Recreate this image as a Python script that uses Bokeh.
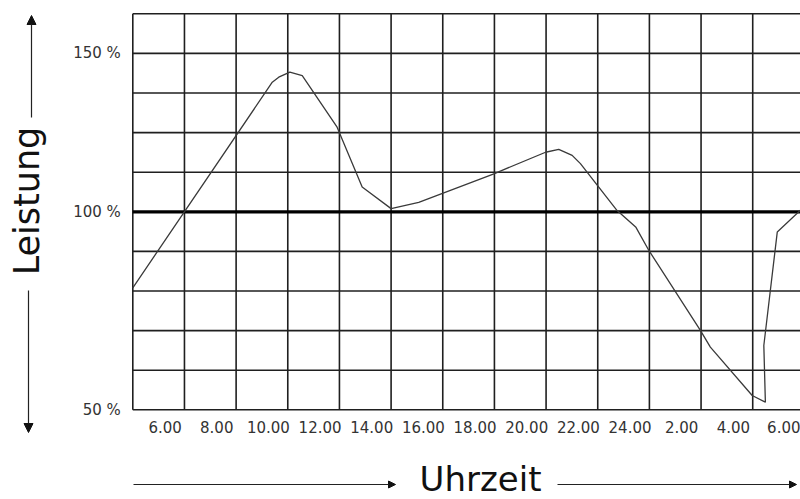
import math
from bokeh.plotting import figure
from bokeh.models import Range1d, FixedTicker, LinearAxis, Arrow, NormalHead
from bokeh.embed import file_html
from bokeh.resources import INLINE
from bokeh.core.properties import value

# ---------------- data ----------------
# Tageskurve der Leistungsbereitschaft (Uhrzeit in Stunden, 24+ = nach Mitternacht)
hours = [4.75, 10.15, 10.40, 10.83, 11.31, 12.66, 13.63, 14.75, 15.82, 18.73,
         20.73, 21.24, 21.76, 22.08, 23.50, 24.23, 24.73, 26.73, 27.11, 28.73,
         29.24, 29.18, 29.70, 30.60]
leistung = [76.0, 140.9, 142.5, 144.1, 143.0, 126.7, 107.8, 101.0, 103.0, 112.0,
            118.8, 119.7, 117.8, 115.2, 100.4, 95.1, 87.8, 62.5, 57.3, 42.0,
            39.9, 57.8, 93.6, 100.5]

reference_level = 100  # 100 %

# grid (each cell = 2 h horizontally, 12.5 % vertically)
grid_hours = [4.75, 6.75, 8.75, 10.75, 12.75, 14.75, 16.75, 18.75, 20.75,
              22.75, 24.75, 26.75, 28.75, 30.75]
grid_levels = [37.5, 50, 62.5, 75, 87.5, 100, 112.5, 125, 137.5, 150, 162.5]

x_tick_hours = [6, 8, 10, 12, 14, 16, 18, 20, 22, 24, 26, 28, 30]
x_tick_labels = ["6.00", "8.00", "10.00", "12.00", "14.00", "16.00", "18.00",
                 "20.00", "22.00", "24.00", "2.00", "4.00", "6.00"]
y_tick_levels = [37.5, 100, 150]
y_tick_labels = ["50 %", "100 %", "150 %"]

x_title = "Uhrzeit"
y_title = "Leistung"

# ---------------- layout (pixels on the canvas) ----------------
W, H = 800, 499
GRID_LEFT_PX = 132.3      # canvas x of the first vertical grid line
GRID_TOP_PX = 13.3        # canvas y of the top grid line
PX_PER_HOUR = 25.83
PX_PER_PCT = 3.168

x0 = grid_hours[0] - GRID_LEFT_PX / PX_PER_HOUR
x1 = x0 + W / PX_PER_HOUR
y1 = grid_levels[-1] + GRID_TOP_PX / PX_PER_PCT
y0 = y1 - H / PX_PER_PCT


def px_x(px):
    return x0 + px / PX_PER_HOUR


def px_y(py):
    return y1 - py / PX_PER_PCT


p = figure(width=W, height=H, output_backend="svg", toolbar_location=None,
           x_range=Range1d(x0, x1), y_range=Range1d(y0, y1),
           x_axis_location=None, y_axis_location=None, min_border=0)
p.outline_line_color = None
p.background_fill_color = "white"
p.border_fill_color = "white"
p.xgrid.visible = False
p.ygrid.visible = False

grid_color = "#1f1f1f"
# vertical grid lines
p.segment(x0=grid_hours, y0=[grid_levels[0]] * len(grid_hours),
          x1=grid_hours, y1=[grid_levels[-1]] * len(grid_hours),
          line_color=grid_color, line_width=1.6)
# horizontal grid lines
p.segment(x0=[grid_hours[0]] * len(grid_levels), y0=grid_levels,
          x1=[grid_hours[-1]] * len(grid_levels), y1=grid_levels,
          line_color=grid_color, line_width=1.6)

# 100 % reference line
p.line([grid_hours[0], grid_hours[-1]], [reference_level, reference_level],
       line_color="#000000", line_width=3.2)

# curve
p.line(hours, leistung, line_color="#3a3a3a", line_width=1.3)

# axes fixed at the grid edges
tick_font = "DejaVu Sans"
xaxis = LinearAxis(ticker=FixedTicker(ticks=x_tick_hours),
                   fixed_location=grid_levels[0])
xaxis.major_label_overrides = {h: t for h, t in zip(x_tick_hours, x_tick_labels)}
yaxis = LinearAxis(ticker=FixedTicker(ticks=y_tick_levels),
                   fixed_location=grid_hours[0])
yaxis.major_label_overrides = {v: t for v, t in zip(y_tick_levels, y_tick_labels)}
for ax in (xaxis, yaxis):
    ax.axis_line_color = None
    ax.major_tick_line_color = None
    ax.minor_tick_line_color = None
    ax.major_label_text_font = tick_font
    ax.major_label_text_font_size = "15px"
    ax.major_label_text_color = "#333333"
xaxis.major_label_standoff = 5
yaxis.major_label_standoff = 6
p.add_layout(xaxis, "below")
p.add_layout(yaxis, "left")

# titles
p.text(x=[px_x(26.5)], y=[px_y(200.5)], text=[y_title], angle=math.pi / 2,
       text_font=value("DejaVu Sans"), text_font_size="35px",
       text_align="center", text_baseline="middle", text_color="#111111")
p.text(x=[px_x(480)], y=[px_y(478)], text=[x_title],
       text_font=value("DejaVu Sans"), text_font_size="34px",
       text_align="center", text_baseline="middle", text_color="#111111")

# arrows
def head(size):
    return NormalHead(size=size, fill_color="#111111", line_color="#111111",
                      line_width=1)

arrow_style = dict(line_color="#222222", line_width=1.2)
p.add_layout(Arrow(end=head(9), x_start=px_x(31), y_start=px_y(117),
                   x_end=px_x(31), y_end=px_y(15), **arrow_style))
p.add_layout(Arrow(end=head(9), x_start=px_x(28), y_start=px_y(290),
                   x_end=px_x(28), y_end=px_y(432), **arrow_style))
p.add_layout(Arrow(end=head(7), x_start=px_x(133), y_start=px_y(484),
                   x_end=px_x(395), y_end=px_y(484), **arrow_style))
p.add_layout(Arrow(end=head(7), x_start=px_x(557), y_start=px_y(484),
                   x_end=px_x(796), y_end=px_y(484), **arrow_style))

open("out.html", "w").write(file_html(p, INLINE))
